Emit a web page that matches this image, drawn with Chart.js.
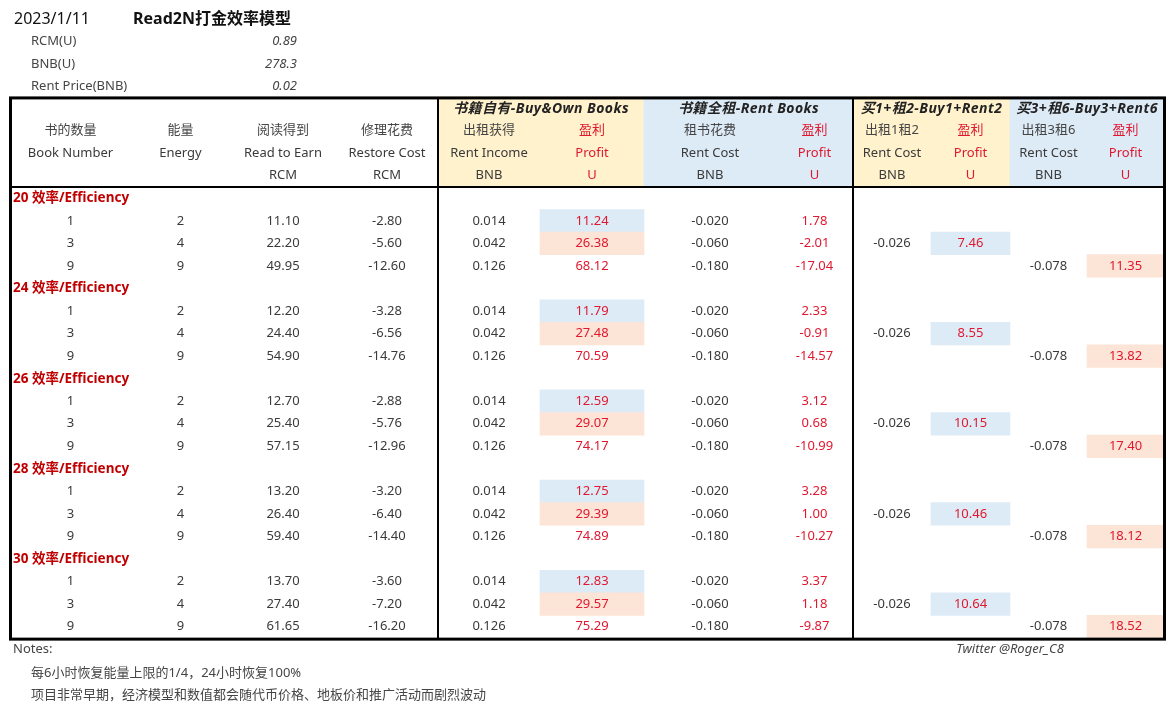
<!DOCTYPE html>
<html><head><meta charset="utf-8">
<script src="https://cdn.jsdelivr.net/npm/chart.js@4.4.1/dist/chart.umd.min.js"></script>
<style>html,body{margin:0;padding:0;background:#fff}canvas{display:block}</style>
</head><body>
<canvas id="c" width="1172" height="712"></canvas>
<script>
// ---------------- data ----------------
const reportDate = '2023/1/11';
const reportTitle = 'Read2N打金效率模型';
const paramLabels = ['RCM(U)', 'BNB(U)', 'Rent Price(BNB)'];
const paramValues = ['0.89', '278.3', '0.02'];

const groupHeaders = ['书籍自有-Buy&Own Books', '书籍全租-Rent Books', '买1+租2-Buy1+Rent2', '买3+租6-Buy3+Rent6'];
const headerCN = ['书的数量', '能量', '阅读得到', '修理花费', '出租获得', '盈利', '租书花费', '盈利', '出租1租2', '盈利', '出租3租6', '盈利'];
const headerEN = ['Book Number', 'Energy', 'Read to Earn', 'Restore Cost', 'Rent Income', 'Profit', 'Rent Cost', 'Profit', 'Rent Cost', 'Profit', 'Rent Cost', 'Profit'];
const headerUnit = ['', '', 'RCM', 'RCM', 'BNB', 'U', 'BNB', 'U', 'BNB', 'U', 'BNB', 'U'];

const efficiencies = [20, 24, 26, 28, 30];
const bookNumbers = [1, 3, 9];
const energies = [2, 4, 9];
const readToEarn = [
  [11.10, 22.20, 49.95], [12.20, 24.40, 54.90], [12.70, 25.40, 57.15], [13.20, 26.40, 59.40], [13.70, 27.40, 61.65]];
const restoreCost = [
  [-2.80, -5.60, -12.60], [-3.28, -6.56, -14.76], [-2.88, -5.76, -12.96], [-3.20, -6.40, -14.40], [-3.60, -7.20, -16.20]];
const rentIncome = [0.014, 0.042, 0.126];
const ownProfit = [
  [11.24, 26.38, 68.12], [11.79, 27.48, 70.59], [12.59, 29.07, 74.17], [12.75, 29.39, 74.89], [12.83, 29.57, 75.29]];
const rentCost = [-0.020, -0.060, -0.180];
const rentProfit = [
  [1.78, -2.01, -17.04], [2.33, -0.91, -14.57], [3.12, 0.68, -10.99], [3.28, 1.00, -10.27], [3.37, 1.18, -9.87]];
const buy1Rent2Cost = -0.026;   // shown on the 3-book row
const buy1Rent2Profit = [7.46, 8.55, 10.15, 10.46, 10.64];
const buy3Rent6Cost = -0.078;   // shown on the 9-book row
const buy3Rent6Profit = [11.35, 13.82, 17.40, 18.12, 18.52];

const notesTitle = 'Notes:';
const notes = ['每6小时恢复能量上限的1/4，24小时恢复100%', '项目非常早期，经济模型和数值都会随代币价格、地板价和推广活动而剧烈波动'];
const credit = 'Twitter @Roger_C8';

// ---------------- layout / style ----------------
const W = 1172, H = 712;
const ROW_PX = 22.55, TABLE_TOP_PX = 96.8;
const Y_MIN = -TABLE_TOP_PX / ROW_PX, Y_MAX = (H - TABLE_TOP_PX) / ROW_PX;
const COL_EDGES = [10, 131, 230, 336, 438, 540, 644, 776, 853, 931, 1010, 1087, 1164];
const FONT = '"Noto Sans", "Noto Sans CJK SC", sans-serif';
const C_TEXT = '#3a3a3a', C_HEAD = '#454545', C_RED = '#e0182f', C_DARKRED = '#c00000';
const C_YELLOW = '#fff2cc', C_BLUE = '#ddebf7', C_PINK = '#fce4d6';
const HEADER_ROWS = 4;

const colCenter = c => (COL_EDGES[c] + COL_EDGES[c + 1]) / 2;

// build table rows (row index -> cells)
const bodyRows = [];
efficiencies.forEach((eff, g) => {
  bodyRows.push({ section: eff + ' 效率/Efficiency' });
  bookNumbers.forEach((bn, k) => {
    const cells = new Array(12).fill(null);
    cells[0] = { t: String(bn) };
    cells[1] = { t: String(energies[k]) };
    cells[2] = { t: readToEarn[g][k].toFixed(2) };
    cells[3] = { t: restoreCost[g][k].toFixed(2) };
    cells[4] = { t: rentIncome[k].toFixed(3) };
    cells[5] = { t: ownProfit[g][k].toFixed(2), red: true, bg: k === 0 ? C_BLUE : (k === 1 ? C_PINK : null) };
    cells[6] = { t: rentCost[k].toFixed(3) };
    cells[7] = { t: rentProfit[g][k].toFixed(2), red: true };
    if (bn === 3) {
      cells[8] = { t: buy1Rent2Cost.toFixed(3) };
      cells[9] = { t: buy1Rent2Profit[g].toFixed(2), red: true, bg: C_BLUE };
    }
    if (bn === 9) {
      cells[10] = { t: buy3Rent6Cost.toFixed(3) };
      cells[11] = { t: buy3Rent6Profit[g].toFixed(2), red: true, bg: C_PINK };
    }
    bodyRows.push({ cells });
  });
});

// floating bars for coloured cells
const cellBars = [], cellColors = [];
bodyRows.forEach((row, i) => {
  if (!row.cells) return;
  row.cells.forEach((cell, c) => {
    if (cell && cell.bg) {
      cellBars.push({ x: [COL_EDGES[c], COL_EDGES[c + 1]], y: HEADER_ROWS + i + 0.5 });
      cellColors.push(cell.bg);
    }
  });
});
const headerBars = [], headerColors = [];
groupHeaders.forEach((g, j) => {
  headerBars.push({ x: [COL_EDGES[4 + 2 * j], COL_EDGES[6 + 2 * j]], y: HEADER_ROWS / 2 });
  headerColors.push(j % 2 === 0 ? C_YELLOW : C_BLUE);
});

const tablePlugin = {
  id: 'tablePlugin',
  beforeDraw(chart) {
    const ctx = chart.ctx;
    ctx.save(); ctx.fillStyle = '#fff'; ctx.fillRect(0, 0, W, H); ctx.restore();
  },
  afterDatasetsDraw(chart) {
    const ctx = chart.ctx, xs = chart.scales.x, ys = chart.scales.y;
    const X = v => xs.getPixelForValue(v), Y = v => ys.getPixelForValue(v);
    const txt = (s, x, y, font, color, align, spacing) => {
      ctx.font = font; ctx.fillStyle = color; ctx.textAlign = align || 'center';
      ctx.textBaseline = 'middle';
      if ('letterSpacing' in ctx) ctx.letterSpacing = spacing || '0px';
      ctx.fillText(s, x, y);
      if ('letterSpacing' in ctx) ctx.letterSpacing = '0px';
    };
    ctx.save();
    // top block
    txt(reportDate, X(14), Y(-3.43), '16px ' + FONT, '#111', 'left');
    txt(reportTitle, X(133), Y(-3.43), 'bold 16px ' + FONT, '#111', 'left');
    paramLabels.forEach((l, i) => {
      const yy = Y(-2.45 + i);
      txt(l, X(31), yy, '13px ' + FONT, C_HEAD, 'left');
      txt(paramValues[i], X(297), yy, 'italic 13px ' + FONT, C_HEAD, 'right');
    });
    // header
    groupHeaders.forEach((g, j) => {
      txt(g, X((COL_EDGES[4 + 2 * j] + COL_EDGES[6 + 2 * j]) / 2), Y(0.55), 'italic bold 14px ' + FONT, '#222', 'center', '0.45px');
    });
    for (let c = 0; c < 12; c++) {
      const red = c >= 5 && c % 2 === 1;
      const col = red ? C_RED : C_HEAD;
      txt(headerCN[c], X(colCenter(c)), Y(1.5), '13px ' + FONT, col);
      txt(headerEN[c], X(colCenter(c)), Y(2.5), '13px ' + FONT, red ? C_RED : C_TEXT);
      if (headerUnit[c]) txt(headerUnit[c], X(colCenter(c)), Y(3.5), '13px ' + FONT, red ? C_RED : C_TEXT);
    }
    // body
    bodyRows.forEach((row, i) => {
      const yy = Y(HEADER_ROWS + i + 0.5);
      if (row.section) {
        txt(row.section, X(13), yy, 'bold 13.5px ' + FONT, C_DARKRED, 'left');
        return;
      }
      row.cells.forEach((cell, c) => {
        if (!cell) return;
        txt(cell.t, X(colCenter(c)), yy, '13px ' + FONT, cell.red ? C_RED : C_TEXT);
      });
    });
    // lines
    const top = Y(0.05), bottom = Y(HEADER_ROWS + bodyRows.length + 0.05);
    ctx.strokeStyle = '#000';
    ctx.lineWidth = 2;
    ctx.beginPath();
    ctx.moveTo(X(COL_EDGES[0]), Y(HEADER_ROWS)); ctx.lineTo(X(COL_EDGES[12]), Y(HEADER_ROWS));
    [4, 8].forEach(c => { ctx.moveTo(X(COL_EDGES[c]), top); ctx.lineTo(X(COL_EDGES[c]), bottom); });
    ctx.stroke();
    ctx.lineWidth = 3;
    ctx.strokeRect(X(COL_EDGES[0] + 0.5), top, X(COL_EDGES[12] + 0.5) - X(COL_EDGES[0] + 0.5), bottom - top);
    // notes
    txt(notesTitle, X(13), Y(24.52), '13px ' + FONT, C_HEAD, 'left');
    notes.forEach((n, i) => txt(n, X(31), Y(25.55 + i), '13px ' + FONT, C_HEAD, 'left'));
    txt(credit, X(1010), Y(24.52), 'italic 13px ' + FONT, C_HEAD, 'center');
    ctx.restore();
  }
};

const fixBounds = (lo, hi) => function (scale) { scale.min = lo; scale.max = hi; };

new Chart(document.getElementById('c'), {
  type: 'bar',
  data: {
    datasets: [
      { label: 'header', data: headerBars, backgroundColor: headerColors, barThickness: ROW_PX * HEADER_ROWS, grouped: false, borderWidth: 0 },
      { label: 'cells', data: cellBars, backgroundColor: cellColors, barThickness: ROW_PX, grouped: false, borderWidth: 0 }
    ]
  },
  options: {
    indexAxis: 'y',
    responsive: false,
    animation: false,
    events: [],
    devicePixelRatio: 1,
    layout: { padding: 0 },
    plugins: { legend: { display: false }, tooltip: { enabled: false }, title: { display: false } },
    scales: {
      x: { type: 'linear', min: 0, max: W, display: false, offset: false, bounds: 'data', grace: 0,
           afterBuildTicks: fixBounds(0, W) },
      y: { type: 'linear', min: Y_MIN, max: Y_MAX, reverse: true, display: false, offset: false, bounds: 'data', grace: 0,
           afterBuildTicks: fixBounds(Y_MIN, Y_MAX) }
    }
  },
  plugins: [tablePlugin]
});
</script>
</body></html>
